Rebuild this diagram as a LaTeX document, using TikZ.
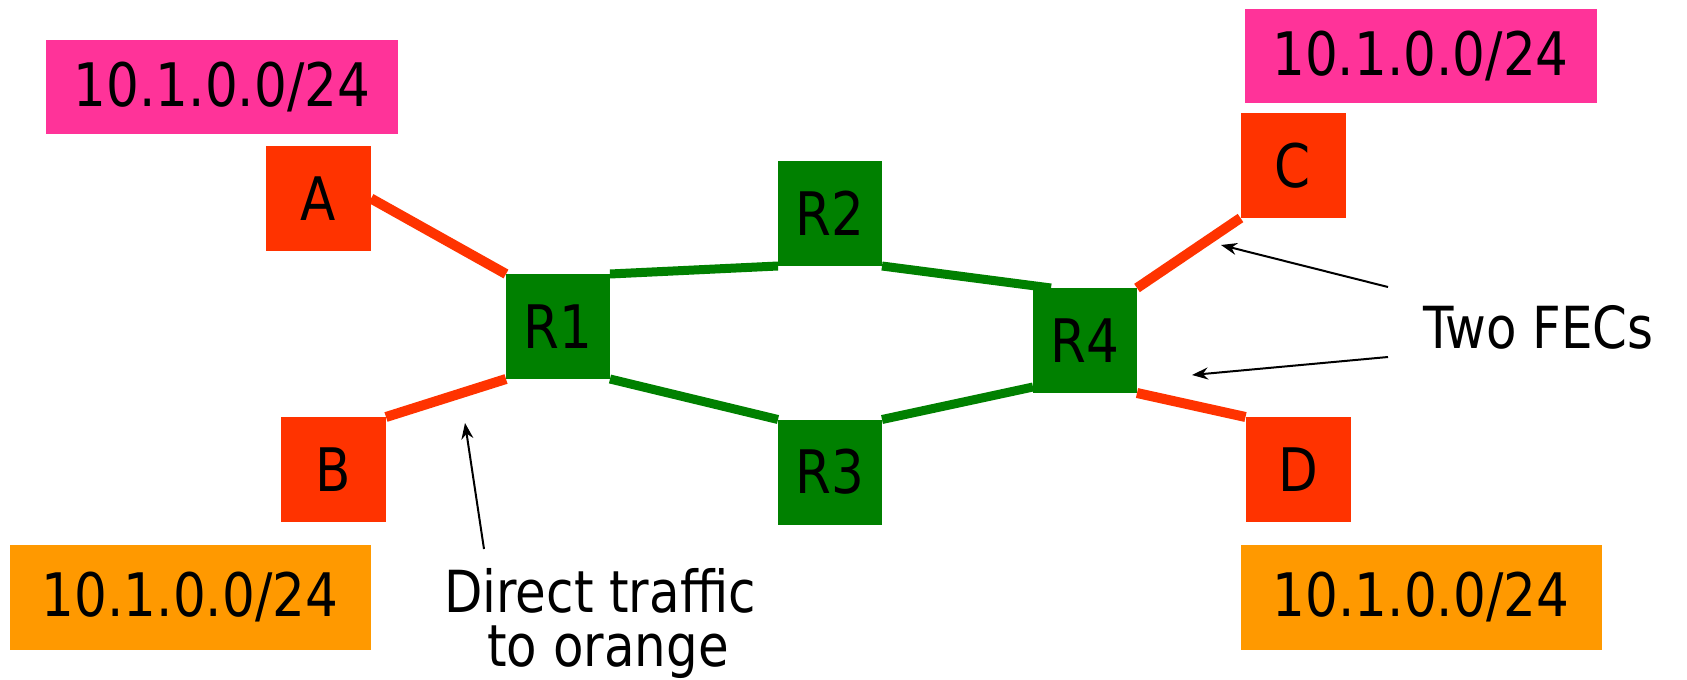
\documentclass[tikz,border=0pt]{standalone}
\usepackage{fontspec}
\setmainfont{DejaVu Sans}[FakeStretch=0.86]
\usetikzlibrary{arrows.meta}
\definecolor{pinkc}{HTML}{FF3399}
\definecolor{redc}{HTML}{FF3300}
\definecolor{greenc}{HTML}{008000}
\definecolor{orangec}{HTML}{FF9900}
\begin{document}
\begin{tikzpicture}[x=0.5pt,y=-0.5pt,
  every node/.style={inner sep=0pt,outer sep=0pt,font=\fontsize{30}{25}\selectfont},
  host/.style={fill=redc,minimum width=52.5pt,minimum height=52.5pt},
  router/.style={fill=greenc,minimum width=52pt,minimum height=52.5pt},
  pfx/.style={minimum width=176pt,minimum height=47pt},
  pfxo/.style={fill=orangec,minimum width=180.5pt,minimum height=52.5pt},
  note/.style={font=\fontsize{29}{25}\selectfont},
  redlink/.style={draw=redc,line width=5pt},
  greenlink/.style={draw=greenc,line width=4.5pt},
  pointer/.style={draw=black,line width=1pt,-{Stealth[length=8pt,width=6pt]}}]
\useasboundingbox (0,0) rectangle (1687,680);
\node[pfx,fill=pinkc] (pl) at (222,87) {10.1.0.0/24};
\node[pfx,fill=pinkc] (pr) at (1420.5,56) {10.1.0.0/24};
\node[pfxo] (ol) at (190,597.5) {10.1.0.0/24};
\node[pfxo] (or) at (1421,597.5) {10.1.0.0/24};
\node[host] (A) at (318.5,198.5) {A};
\node[host] (B) at (333.5,469.5) {B};
\node[host] (C) at (1293,165.5) {C};
\node[host] (D) at (1298,469.5) {D};
\node[router] (R1) at (558,326.5) {R1};
\node[router] (R2) at (830,213.5) {R2};
\node[router] (R3) at (830,472) {R3};
\node[router] (R4) at (1085,340.5) {R4};
\draw[redlink] (A.east) -- (R1.north west);
\draw[redlink] (B.north east) -- (R1.south west);
\draw[greenlink] (R1.north east) -- (R2.south west);
\draw[greenlink] (R2.south east) -- ([xshift=9pt]R4.north west);
\draw[greenlink] (R1.south east) -- (R3.north west);
\draw[greenlink] (R3.north east) -- ([yshift=3pt]R4.south west);
\draw[redlink] (R4.north east) -- (C.south west);
\draw[redlink] (R4.south east) -- (D.north west);
\node[note,anchor=base west] (fec) at (1423,348) {Two FECs};
\node[note,anchor=base] (dt1) at (600,612) {Direct traffic};
\node[note,anchor=base] (dt2) at (608,666) {to orange};
\coordinate (t1) at (484,549); \coordinate (h1) at (465,423);
\coordinate (t2) at (1388,287); \coordinate (h2) at (1221,245);
\coordinate (t3) at (1388,357); \coordinate (h3) at (1192,375);
\draw[pointer] (t1) -- (h1);
\draw[pointer] (t2) -- (h2);
\draw[pointer] (t3) -- (h3);
\end{tikzpicture}
\end{document}
